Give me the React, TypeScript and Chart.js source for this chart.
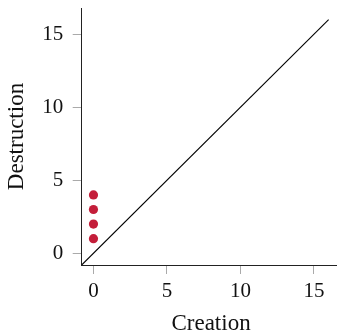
import React, { useEffect, useRef } from "react";
import { Chart, registerables } from "chart.js";

Chart.register(...registerables);

const pointX = [0, 0, 0, 0];
const pointY = [1, 2, 3, 4];
const diagX = [-0.8, 16];
const diagY = [-0.8, 16];
const xTicks = [0, 5, 10, 15];
const yTicks = [0, 5, 10, 15];
const xTitle = "Creation";
const yTitle = "Destruction";

const FONT = "'Liberation Serif', 'DejaVu Serif', serif";

export default function App() {
  const ref = useRef<HTMLCanvasElement | null>(null);

  useEffect(() => {
    document.body.style.margin = "0";
    document.body.style.overflow = "hidden";
    const canvas = ref.current;
    if (!canvas) return;
    const chart = new Chart(canvas, {
      type: "scatter",
      data: {
        datasets: [
          {
            type: "line",
            data: diagX.map((x, i) => ({ x, y: diagY[i] })),
            borderColor: "#000",
            borderWidth: 1.1,
            pointRadius: 0,
            fill: false,
            tension: 0,
          },
          {
            type: "scatter",
            data: pointX.map((x, i) => ({ x, y: pointY[i] })),
            backgroundColor: "#C41E3A",
            borderWidth: 0,
            pointRadius: 4.6,
          },
        ],
      },
      options: {
        responsive: false,
        animation: false,
        devicePixelRatio: 1,
        layout: { padding: { top: 8, right: 4.6, left: 0, bottom: 0 } },
        plugins: { legend: { display: false }, tooltip: { enabled: false } },
        scales: {
          x: {
            type: "linear",
            min: -0.8,
            max: 16.8,
            afterBuildTicks: (s: any) => {
              s.ticks = xTicks.map((v) => ({ value: v }));
            },
            afterFit: (s: any) => {
              s.height = 75;
              s.paddingLeft = 0;
              s.paddingRight = 0;
            },
            border: { display: true, color: "#222", width: 1 },
            grid: {
              drawOnChartArea: false,
              drawTicks: true,
              tickLength: 9,
              tickColor: "#aaa",
            },
            ticks: {
              padding: 5,
              color: "#111",
              font: { family: FONT, size: 21 },
              maxRotation: 0,
            },
            title: {
              display: true,
              text: xTitle,
              color: "#111",
              font: { family: FONT, size: 23 },
              padding: { top: 0, bottom: 2.7 },
            },
          },
          y: {
            type: "linear",
            min: -0.8,
            max: 16.8,
            afterBuildTicks: (s: any) => {
              s.ticks = yTicks.map((v) => ({ value: v }));
            },
            afterFit: (s: any) => {
              s.width = 81.7;
              s.paddingTop = 0;
              s.paddingBottom = 0;
            },
            border: { display: true, color: "#222", width: 1 },
            grid: {
              drawOnChartArea: false,
              drawTicks: true,
              tickLength: 9,
              tickColor: "#aaa",
            },
            ticks: {
              padding: 9.4,
              color: "#111",
              font: { family: FONT, size: 21 },
            },
            title: {
              display: true,
              text: yTitle,
              color: "#111",
              font: { family: FONT, size: 23 },
              padding: { top: 2.7, bottom: 0 },
            },
          },
        },
      },
    });
    return () => chart.destroy();
  }, []);

  return (
    <div style={{ position: "absolute", left: 0, top: 0, width: 345, height: 340 }}>
      <canvas ref={ref} width={345} height={340} />
    </div>
  );
}
